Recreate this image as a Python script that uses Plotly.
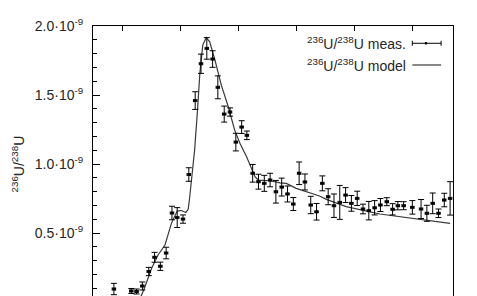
import plotly.graph_objects as go

SCALE = 1e-9

# measured 236U/238U (values in units of 1e-9)
meas_year = [1948.6, 1951.6, 1952.5, 1953.5, 1954.6, 1955.6, 1956.6, 1957.6, 1958.6, 1959.5,
             1960.5, 1961.5, 1962.6, 1963.6, 1964.6, 1965.6, 1966.5, 1967.6, 1968.6, 1969.6,
             1970.6, 1971.5, 1972.5, 1973.5, 1974.5, 1975.5, 1976.5, 1977.5, 1978.5, 1979.5,
             1980.5, 1981.5, 1982.5, 1983.5, 1984.5, 1985.5, 1986.5, 1987.5, 1988.5, 1989.5,
             1990.5, 1991.5, 1992.5, 1993.5, 1994.5, 1995.6, 1996.6, 1997.5, 1998.5, 2000.0,
             2001.5, 2002.5, 2003.5, 2004.5, 2005.5, 2006.5]
meas_val = [0.094, 0.080, 0.076, 0.116, 0.221, 0.324, 0.259, 0.355, 0.645, 0.612,
            0.601, 0.924, 1.460, 1.727, 1.838, 1.761, 1.556, 1.362, 1.377, 1.159,
            1.268, 1.208, 0.933, 0.872, 0.860, 0.884, 0.799, 0.833, 0.783, 0.710,
            0.933, 0.870, 0.703, 0.654, 0.860, 0.763, 0.698, 0.722, 0.775, 0.715,
            0.751, 0.674, 0.662, 0.683, 0.703, 0.727, 0.672, 0.698, 0.698, 0.686,
            0.674, 0.643, 0.715, 0.643, 0.739, 0.751]
meas_err = [0.041, 0.018, 0.018, 0.029, 0.030, 0.036, 0.030, 0.042, 0.049, 0.072,
            0.030, 0.049, 0.064, 0.070, 0.078, 0.060, 0.083, 0.058, 0.030, 0.064,
            0.046, 0.031, 0.064, 0.054, 0.058, 0.049, 0.082, 0.065, 0.058, 0.047,
            0.082, 0.058, 0.063, 0.060, 0.054, 0.058, 0.085, 0.123, 0.054, 0.057,
            0.052, 0.035, 0.067, 0.052, 0.047, 0.029, 0.041, 0.030, 0.029, 0.049,
            0.069, 0.058, 0.075, 0.031, 0.049, 0.121]
year_err = 0.3

# model curve
model_year = [1949.0, 1951.0, 1952.5, 1953.3, 1953.9, 1955.1, 1956.2, 1957.4, 1958.5, 1959.5,
              1960.2, 1961.0, 1961.4, 1961.6, 1962.1, 1962.5, 1963.0, 1963.4, 1963.9, 1964.5,
              1965.1, 1966.0, 1967.1, 1968.3, 1969.4, 1970.3, 1971.45, 1972.3, 1972.9, 1973.45,
              1975.5, 1977.2, 1978.3, 1980.0, 1984.0, 1985.2, 1988.6, 1994.4, 2000.2, 2006.5]
model_val = [0.000, 0.015, 0.030, 0.043, 0.105, 0.244, 0.341, 0.413, 0.570, 0.659,
             0.663, 0.649, 0.674, 0.739, 0.935, 1.101, 1.391, 1.657, 1.862, 1.916,
             1.886, 1.754, 1.572, 1.415, 1.246, 1.150, 1.053, 0.969, 0.908, 0.884,
             0.879, 0.864, 0.860, 0.824, 0.768, 0.744, 0.691, 0.638, 0.607, 0.570]

y_tickvals = [0.5, 1.0, 1.5, 2.0]
y_ticktext = ["0.5·10<sup>-9</sup>", "1.0·10<sup>-9</sup>", "1.5·10<sup>-9</sup>", "2.0·10<sup>-9</sup>"]
x_tickvals = [1950, 1960, 1970, 1980, 1990, 2000]

FONT = "Liberation Sans, Arial, sans-serif"
TXT = "#262626"

fig = go.Figure()
fig.add_trace(go.Scatter(
    x=model_year, y=model_val, mode="lines",
    line=dict(color="#3a3a3a", width=1.2), showlegend=False))
fig.add_trace(go.Scatter(
    x=meas_year, y=meas_val, mode="markers",
    marker=dict(symbol="square", size=3, color="black"),
    error_y=dict(type="data", array=meas_err, thickness=1, width=3, color="black"),
    error_x=dict(type="constant", value=year_err, thickness=1, width=1.5, color="black"),
    showlegend=False))

fig.update_layout(
    width=477, height=296,
    margin=dict(l=93, r=24, t=26, b=0, pad=0),
    paper_bgcolor="white", plot_bgcolor="white",
    font=dict(family=FONT, size=14, color=TXT),
    xaxis=dict(range=[1945, 2007], side="top", showline=True, linecolor="black", linewidth=1,
               mirror=False, ticks="inside", ticklen=5, tickcolor="black", tickvals=x_tickvals,
               showticklabels=False, showgrid=False, zeroline=False),
    yaxis=dict(range=[0.0435, 2.0005], showline=True, linecolor="black", linewidth=1, mirror=True,
               ticks="inside", ticklen=7, tickcolor="black", tickvals=y_tickvals, ticktext=y_ticktext,
               ticklabelstandoff=6,
               minor=dict(ticks="inside", ticklen=3.5, tickcolor="black", tickmode="linear",
                          tick0=0, dtick=0.1, showgrid=False),
               showgrid=False, zeroline=False, tickfont=dict(family=FONT, size=14, color=TXT)),
)

# y-axis title
fig.add_annotation(text="<sup>236</sup>U/<sup>238</sup>U", xref="paper", yref="y", x=-0.207, y=1.0,
                   textangle=-90, showarrow=False, xanchor="center", yanchor="middle",
                   font=dict(family=FONT, size=14, color=TXT))
# cut-off lowest tick label
fig.add_annotation(text="0.0·10<sup>-9</sup>", xref="paper", yref="paper", x=-0.025, y=-0.0222,
                   showarrow=False, xanchor="right", yanchor="middle",
                   font=dict(family=FONT, size=14, color=TXT))

# legend (gnuplot style: text left, sample right)
lx0, lx1, ltxt = 0.887, 0.967, 0.876
ly_meas, ly_model = 0.936, 0.8556
fig.add_annotation(text="<sup>236</sup>U/<sup>238</sup>U meas.", xref="paper", yref="paper",
                   x=ltxt, y=ly_meas, xanchor="right", yanchor="middle", showarrow=False,
                   font=dict(family=FONT, size=14, color=TXT))
fig.add_annotation(text="<sup>236</sup>U/<sup>238</sup>U model", xref="paper", yref="paper",
                   x=ltxt, y=ly_model, xanchor="right", yanchor="middle", showarrow=False,
                   font=dict(family=FONT, size=14, color=TXT))
cap = 2.5 / 270
fig.add_shape(type="line", xref="paper", yref="paper", x0=lx0, x1=lx1, y0=ly_meas, y1=ly_meas,
              line=dict(color="black", width=1))
fig.add_shape(type="line", xref="paper", yref="paper", x0=lx0, x1=lx0, y0=ly_meas - cap, y1=ly_meas + cap,
              line=dict(color="black", width=1))
fig.add_shape(type="line", xref="paper", yref="paper", x0=lx1, x1=lx1, y0=ly_meas - cap, y1=ly_meas + cap,
              line=dict(color="black", width=1))
fig.add_shape(type="rect", xref="paper", yref="paper", x0=0.922, x1=0.928, y0=ly_meas - 0.0045,
              y1=ly_meas + 0.0045, line=dict(width=0), fillcolor="black")
fig.add_shape(type="line", xref="paper", yref="paper", x0=lx0, x1=lx1, y0=ly_model, y1=ly_model,
              line=dict(color="#3a3a3a", width=1.2))

fig.write_html("out.html")
